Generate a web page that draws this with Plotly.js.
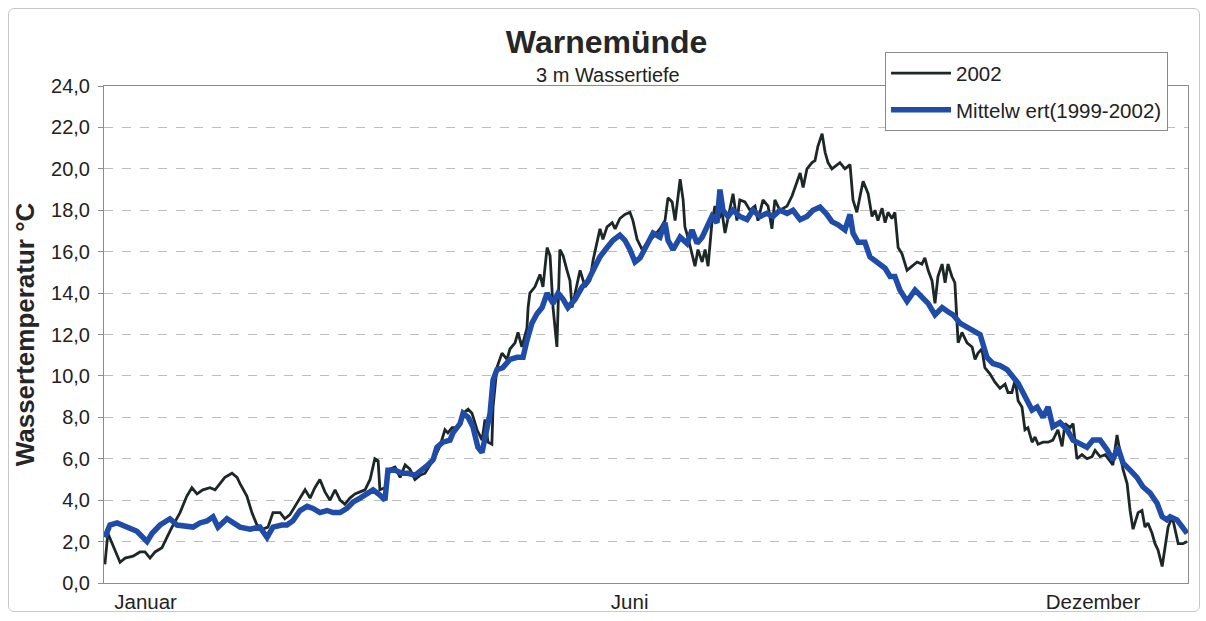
<!DOCTYPE html>
<html>
<head>
<meta charset="utf-8">
<script src="https://cdn.plot.ly/plotly-3.0.1.min.js"></script>
<style>
  html, body { margin: 0; padding: 0; background: #fff; }
  #chart { width: 1206px; height: 621px; }
  #frame { position: absolute; left: 8px; top: 8px; width: 1190px; height: 602px;
           border: 1px solid #c8c8c8; border-radius: 6px; pointer-events: none; }
</style>
</head>
<body>
<div id="chart"></div>
<div id="frame"></div>
<script>
// ---- Data (day of year, water temperature in °C) ----
const seriesNames = ['2002', 'Mittelw ert(1999-2002)'];

const days2002 = [0.3,1.3,5.4,7.1,9.8,12.1,13.8,15.5,17.2,19.5,21.2,22.9,25.6,27.9,29.6,31.3,33.3,35.7,37.4,39.1,40.7,43.1,44.8,45.8,48.1,49.8,51.5,53.5,55.2,56.9,59.3,60.9,62.6,64.3,66.0,67.7,69.4,71.0,72.7,74.4,76.1,77.8,79.5,81.1,82.8,84.5,86.2,87.9,89.6,91.2,92.3,92.9,94.6,96.3,98.0,99.7,101.4,103.0,104.7,106.4,108.1,109.8,111.5,113.1,114.8,115.8,117.2,118.9,119.9,120.9,122.6,123.9,125.6,127.3,128.3,129.3,130.6,131.0,132.3,134.0,135.7,136.7,138.4,139.4,140.7,142.4,142.8,143.4,145.1,146.8,147.8,149.2,150.2,151.2,152.5,153.5,154.6,155.9,156.9,157.6,158.6,160.3,162.0,163.6,164.7,166.0,167.0,168.0,169.4,171.1,172.1,173.7,175.4,177.1,178.1,179.5,181.2,182.8,184.9,187.2,188.9,189.9,191.3,192.3,193.3,194.0,195.0,195.6,196.6,198.0,199.0,200.0,201.4,202.4,203.4,204.7,205.7,206.7,208.1,209.1,210.8,211.8,213.1,214.1,215.8,217.5,219.2,220.2,221.9,223.6,224.9,225.9,227.6,230.0,231.7,233.3,234.4,235.4,236.7,238.4,239.4,240.4,241.8,242.8,243.8,245.1,246.8,247.8,249.5,251.2,252.2,253.5,254.6,255.6,257.3,258.6,259.6,260.6,262.0,263.0,264.0,265.3,266.3,267.4,268.7,270.4,272.1,273.8,275.4,276.4,277.5,278.8,279.8,280.8,282.2,283.2,284.2,285.5,286.5,287.2,287.6,288.9,290.6,292.3,293.3,294.3,295.6,296.6,298.3,300.0,301.7,303.4,304.4,305.7,306.8,307.8,309.1,310.1,311.1,312.5,313.5,314.5,316.2,317.9,319.5,321.2,322.6,323.6,325.3,326.3,327.6,329.3,331.0,332.7,333.7,335.4,337.1,338.7,339.7,341.1,342.1,343.1,344.5,345.5,346.5,348.2,349.5,350.5,351.5,352.9,353.9,354.9,356.3,357.3,358.3,359.7,360.7,361.7,363.3,364.7];
const temp2002 = [0.9,2.4,1.0,1.2,1.3,1.5,1.5,1.2,1.5,1.7,2.2,2.7,3.4,4.2,4.6,4.3,4.5,4.6,4.5,4.8,5.1,5.3,5.1,4.8,4.2,3.4,2.8,2.6,2.7,3.4,3.4,3.1,3.3,3.7,4.1,4.5,4.1,4.6,5.0,4.4,4.0,4.5,4.0,3.8,4.1,4.3,4.4,4.5,5.0,6.0,5.9,4.5,4.6,5.5,5.6,5.1,5.7,5.5,5.0,5.2,5.3,5.7,6.1,6.6,7.4,7.25,7.5,7.5,7.7,8.2,8.4,8.2,7.4,6.9,7.9,6.8,6.7,8.5,10.4,11.1,10.8,11.3,11.6,12.1,11.4,12.3,13.3,14.0,14.3,14.9,14.3,16.2,15.8,13.3,11.4,16.1,15.8,15.1,14.6,13.3,14.0,15.1,14.3,14.6,15.6,16.4,17.1,16.6,17.2,17.4,17.1,17.6,17.8,17.9,17.5,16.6,16.1,16.4,16.7,17.1,17.5,18.6,18.4,17.5,18.7,19.5,18.5,17.2,16.7,15.8,15.3,16.1,15.5,16.1,15.3,17.4,18.2,17.5,17.9,16.9,18.0,18.8,17.5,18.5,18.4,18.0,18.2,17.5,18.5,18.2,17.1,18.5,18.0,18.2,18.7,19.3,19.8,19.1,20.0,20.3,20.4,21.1,21.7,20.8,20.3,20.0,20.2,20.3,20.0,20.2,18.5,17.9,18.7,19.4,18.8,17.7,18.0,17.5,18.1,17.4,17.9,17.6,17.9,16.2,15.9,15.1,15.3,15.5,15.4,15.7,15.1,14.6,13.5,14.8,15.4,14.5,15.4,14.8,14.5,12.7,11.6,12.1,11.6,11.4,10.8,11.1,11.3,10.4,10.1,9.7,9.4,9.6,9.2,9.2,9.8,8.8,8.5,7.4,7.5,6.8,7.05,6.7,6.8,6.8,6.9,7.4,6.6,7.7,7.5,7.7,6.0,6.2,6.0,6.1,6.4,6.1,6.2,5.9,5.7,7.15,6.3,5.5,4.8,3.5,2.6,3.4,3.5,2.7,2.9,2.4,1.9,1.6,0.8,1.7,2.7,3.2,2.6,1.9,1.9,2.0];

const daysMean = [0.3,2.0,4.4,7.7,11.1,14.5,16.2,18.9,22.2,24.6,27.9,30.0,32.3,34.7,36.7,38.4,41.4,43.4,45.8,49.2,52.5,54.9,56.9,59.9,61.6,63.6,66.0,68.4,70.4,72.7,75.1,77.1,79.5,81.8,83.8,86.2,88.6,90.6,92.9,94.6,95.6,98.0,100.3,102.4,104.7,107.1,109.1,110.8,112.1,114.1,116.5,117.5,119.9,120.9,122.6,124.2,125.9,127.3,128.3,130.0,131.0,132.3,134.3,136.7,139.1,141.1,142.4,144.1,145.8,147.5,149.2,151.2,152.9,154.6,156.2,158.6,161.0,163.0,164.7,167.0,169.4,171.4,173.7,175.4,177.1,178.8,180.5,182.8,184.9,187.2,188.9,189.9,191.6,194.0,196.3,198.0,199.7,201.4,203.0,204.7,206.4,207.4,208.4,210.1,211.8,214.1,216.5,218.5,220.9,223.2,225.3,227.6,230.0,232.0,234.4,236.7,238.7,241.1,243.4,245.1,247.2,249.5,251.2,252.2,253.9,256.2,257.9,260.3,263.0,264.7,266.3,268.0,270.4,273.1,275.4,277.5,279.8,282.2,284.2,285.9,288.2,290.6,292.6,295.0,297.3,299.3,301.7,304.1,307.8,310.1,312.5,314.2,316.2,317.9,319.5,321.9,324.3,326.3,328.6,331.0,333.0,335.4,337.7,339.7,341.4,343.1,345.5,347.8,349.8,352.2,354.6,356.3,357.9,359.0,361.3,363.0,364.7];
const tempMean = [2.2,2.8,2.9,2.7,2.5,2.0,2.4,2.8,3.1,2.8,2.7,2.7,2.9,3.0,3.2,2.7,3.1,2.95,2.7,2.6,2.7,2.2,2.7,2.8,2.8,3.0,3.5,3.7,3.6,3.4,3.5,3.4,3.4,3.6,3.9,4.1,4.35,4.5,4.25,4.0,5.45,5.45,5.3,5.3,5.2,5.45,5.7,5.95,6.55,6.8,6.9,7.25,7.7,8.2,8.0,7.55,6.55,6.3,6.9,8.2,9.8,10.3,10.4,10.8,10.9,10.9,11.7,12.55,13.0,13.3,14.0,13.5,14.0,13.7,13.3,13.7,14.3,14.6,15.1,15.75,16.2,16.55,16.8,16.55,16.1,15.5,15.7,16.4,16.9,16.7,17.4,16.55,16.1,16.7,16.4,17.05,16.4,16.7,17.2,17.7,17.4,19.0,18.0,17.7,18.0,17.7,17.55,18.0,17.7,17.85,17.7,18.0,17.85,18.0,17.55,17.7,18.0,18.15,17.8,17.45,17.3,17.05,17.8,16.9,16.45,16.45,15.75,15.45,15.2,14.8,14.8,14.15,13.6,14.15,13.8,13.5,12.95,13.3,13.1,12.95,12.55,12.35,12.2,12.0,10.9,10.6,10.5,10.3,9.65,9.0,8.35,8.5,8.0,8.5,7.55,7.75,7.4,6.9,6.75,6.55,6.9,6.9,6.45,5.95,6.55,5.8,5.45,5.1,4.65,4.35,3.85,3.2,3.05,3.2,3.05,2.7,2.4];

const monthLabels = ['Januar', 'Juni', 'Dezember'];
const monthDays = [14, 177, 333];
const yTicks = [0, 2, 4, 6, 8, 10, 12, 14, 16, 18, 20, 22, 24];

const FONT = '"Liberation Sans", Arial, sans-serif';

const traces = [
  {
    x: days2002, y: temp2002, name: seriesNames[0], type: 'scatter', mode: 'lines',
    line: { color: '#1e2727', width: 2.8 }, legendgroup: 'a'
  },
  {
    x: daysMean, y: tempMean, name: seriesNames[1], type: 'scatter', mode: 'lines',
    line: { color: '#1f4ca8', width: 5.5 }, legendgroup: 'b'
  }
];

const layout = {
  width: 1206, height: 621,
  margin: { l: 104, r: 18, t: 86, b: 38 },
  paper_bgcolor: '#ffffff', plot_bgcolor: '#ffffff',
  separators: ',.',
  font: { family: FONT, color: '#222', size: 20 },
  title: {
    text: '<b>Warnemünde</b>',
    font: { family: FONT, size: 32, color: '#262626' },
    xref: 'container', x: 0.503, y: 0.932, yanchor: 'middle'
  },
  annotations: [{
    text: '3 m Wassertiefe', xref: 'paper', yref: 'paper',
    x: 0.465, y: 1.022, xanchor: 'center', yanchor: 'middle', showarrow: false,
    font: { family: FONT, size: 20, color: '#222' }
  }],
  showlegend: true,
  legend: {
    x: 0.7205, y: 1.068, xanchor: 'left', yanchor: 'top',
    bgcolor: '#ffffff', bordercolor: '#8a8a8a', borderwidth: 1,
    font: { family: FONT, size: 20.5, color: '#222' },
    itemwidth: 60, traceorder: 'grouped', tracegroupgap: 7
  },
  xaxis: {
    range: [0, 365], tickmode: 'array', tickvals: monthDays, ticktext: monthLabels,
    ticks: '', showgrid: false, zeroline: false,
    showline: true, linecolor: '#8c8c8c', linewidth: 1, mirror: true,
    tickfont: { family: FONT, size: 20.5, color: '#222' }
  },
  yaxis: {
    range: [0, 24], tickmode: 'array', tickvals: yTicks, tickformat: '.1f',
    ticks: 'outside', ticklen: 5, tickcolor: '#8c8c8c', ticklabelstandoff: 4,
    showgrid: true, gridcolor: '#bdbdbd', griddash: 'dash', gridwidth: 1,
    zeroline: false, showline: true, linecolor: '#8c8c8c', linewidth: 1, mirror: true,
    tickfont: { family: FONT, size: 20, color: '#222' },
    title: { text: '<b>Wassertemperatur °C</b>', font: { family: FONT, size: 26, color: '#262626' }, standoff: 8 }
  }
};

Plotly.newPlot('chart', traces, layout, { staticPlot: true, displayModeBar: false });
</script>
</body>
</html>
